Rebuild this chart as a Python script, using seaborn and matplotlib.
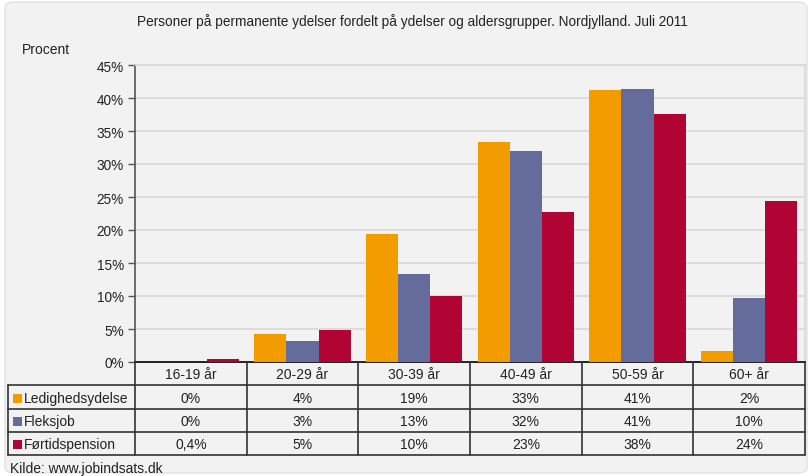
import matplotlib
matplotlib.use("Agg")
import matplotlib.pyplot as plt
import seaborn as sns
import pandas as pd
import numpy as np
from matplotlib.patches import FancyBboxPatch, Rectangle
from matplotlib.ticker import MultipleLocator, FuncFormatter

categories = ["16-19 år", "20-29 år", "30-39 år", "40-49 år", "50-59 år", "60+ år"]
series_names = ["Ledighedsydelse", "Fleksjob", "Førtidspension"]
ledighedsydelse = [0.0, 4.3, 19.4, 33.3, 41.2, 1.7]
fleksjob = [0.0, 3.2, 13.4, 32.0, 41.4, 9.7]
fortidspension = [0.4, 4.9, 10.0, 22.8, 37.6, 24.4]
table_ledig = ["0%", "4%", "19%", "33%", "41%", "2%"]
table_fleks = ["0%", "3%", "13%", "32%", "41%", "10%"]
table_fortid = ["0,4%", "5%", "10%", "23%", "38%", "24%"]
title = "Personer på permanente ydelser fordelt på ydelser og aldersgrupper. Nordjylland. Juli 2011"
ylabel = "Procent"
source = "Kilde: www.jobindsats.dk"

colors = ["#F39C00", "#656C9B", "#B10434"]
bg = "#F1F2F1"

sns.set_theme(style="white")
plt.rcParams["font.family"] = ["Liberation Sans", "DejaVu Sans"]

W, H = 810, 477
fig = plt.figure(figsize=(W / 100, H / 100), dpi=100, facecolor="white")

# rounded background box
box = FancyBboxPatch((5 / W, 3 / H), (W - 8) / W, (H - 6) / H,
                     boxstyle="round,pad=0,rounding_size=0.012",
                     transform=fig.transFigure, facecolor=bg,
                     edgecolor="#E2E2E2", linewidth=1, zorder=-5)
fig.patches.append(box)

def px_axes(l, t, r, b):
    return [l / W, 1 - b / H, (r - l) / W, (b - t) / H]

L, T, R, B = 135, 66, 805, 363
ax = fig.add_axes(px_axes(L, T, R, B))
ax.set_facecolor(bg)

df = pd.DataFrame({
    "kategori": np.repeat(categories, 3).tolist(),
    "ydelse": series_names * len(categories),
    "værdi": [v for trip in zip(ledighedsydelse, fleksjob, fortidspension) for v in trip],
})
sns.barplot(data=df, x="kategori", y="værdi", hue="ydelse", order=categories,
            hue_order=series_names, palette=colors, width=0.86, saturation=1,
            ax=ax, legend=False, zorder=3, linewidth=0)

ax.set_xlim(-0.5, 5.5)
ax.set_ylim(0, 45)
ax.yaxis.set_major_locator(MultipleLocator(5))
ax.yaxis.set_major_formatter(FuncFormatter(lambda v, p: f"{int(round(v))}%"))
ax.grid(axis="y", color="#D8D8D8", linewidth=1.2, zorder=0)
ax.set_axisbelow(True)
ax.set_xlabel("")
ax.set_ylabel("")
ax.set_xticks([])
for s in ["top", "right"]:
    ax.spines[s].set_color("#D8D8D8")
    ax.spines[s].set_linewidth(1.2)
ax.spines["left"].set_color("#555555")
ax.spines["left"].set_linewidth(1.2)
ax.spines["bottom"].set_color("#222222")
ax.spines["bottom"].set_linewidth(1.4)
ax.tick_params(axis="y", which="major", direction="out", length=5, width=1,
               color="#555555", labelsize=9.8, labelcolor="#222222", pad=3, left=True)

# titles
fig.text(412 / W, 1 - 22 / H, title, ha="center", va="center", fontsize=9.8, color="#222222")
fig.text(22 / W, 1 - 50 / H, ylabel, ha="left", va="center", fontsize=10, color="#222222")
fig.text(10 / W, 1 - 469 / H, source, ha="left", va="center", fontsize=10, color="#222222")

# data table
TL, TT, TR, TB = 8, 363, 805, 456
tax = fig.add_axes(px_axes(TL, TT, TR, TB))
tax.set_axis_off()
unit = (R - L) / 6.0
x_left = -0.5 - (L - TL) / unit
tax.set_xlim(x_left, 5.5)
row_edges = [363, 386, 410, 433, 456]
tax.set_ylim(TB, TT)
lc = "#333333"
for y in row_edges[1:]:
    tax.plot([x_left, 5.5], [y, y], color=lc, lw=1.2, clip_on=False)
for k in range(7):
    tax.plot([-0.5 + k, -0.5 + k], [row_edges[0], row_edges[-1]], color=lc, lw=1.2, clip_on=False)
tax.plot([x_left, x_left], [row_edges[1], row_edges[-1]], color=lc, lw=1.2, clip_on=False)

fs = 10
for i, c in enumerate(categories):
    tax.text(i, (row_edges[0] + row_edges[1]) / 2 + 1, c, ha="center", va="center", fontsize=fs, color="#222222")
rows = [table_ledig, table_fleks, table_fortid]
for r, (name, vals) in enumerate(zip(series_names, rows)):
    yc = (row_edges[r + 1] + row_edges[r + 2]) / 2 + 1
    for i, v in enumerate(vals):
        tax.text(i, yc, v, ha="center", va="center", fontsize=fs, color="#222222")
    sq = 9 / unit
    tax.add_patch(Rectangle((x_left + 5 / unit, yc - 4.5), sq, 9, facecolor=colors[r],
                            edgecolor="none", clip_on=False))
    tax.text(x_left + 16 / unit, yc, name, ha="left", va="center", fontsize=fs, color="#222222")

fig.savefig("out.png", dpi=100, facecolor="white")
